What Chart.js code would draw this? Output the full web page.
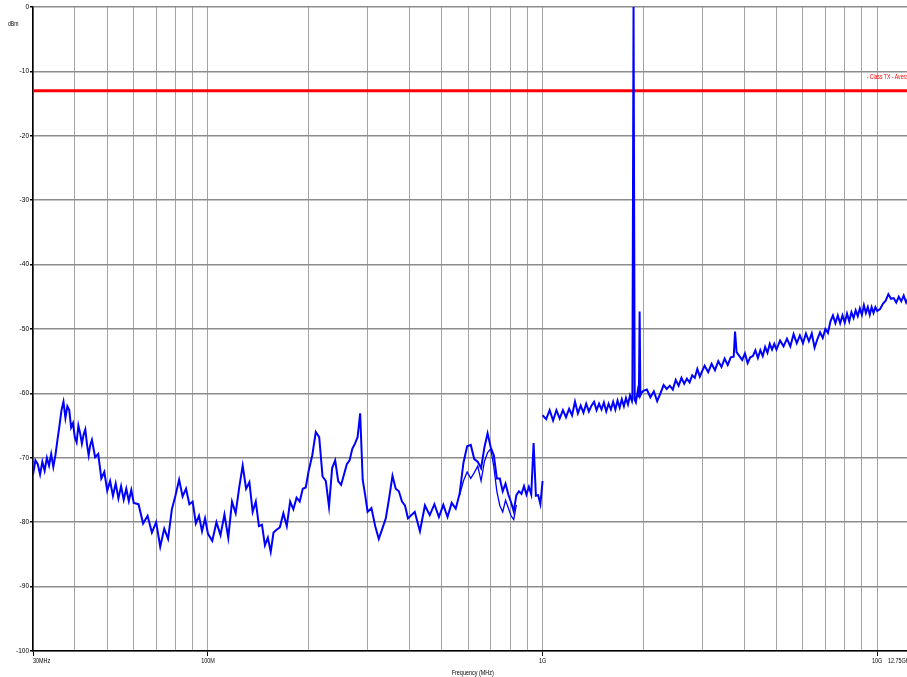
<!DOCTYPE html>
<html lang="en">
<head>
<meta charset="UTF-8">
<title>Conducted Spurious Emissions</title>
<script src="https://cdn.jsdelivr.net/npm/chart.js"></script>
<style>
    html, body { margin: 0; padding: 0; background: #fff; overflow: hidden; }
    /* the plot runs a little past the right edge of the window, like the original printout */
    #wrap { width: 907px; height: 677px; overflow: hidden; }
</style>
</head>
<body>
<div id="wrap"><canvas id="emiChart" width="960" height="677"></canvas></div>
<script>
// grid lines (MHz) and labelled ticks
const gridFreqs = [30, 40, 50, 60, 70, 80, 90, 100, 200, 300, 400, 500, 600, 700, 800, 900,
                   1000, 2000, 3000, 4000, 5000, 6000, 7000, 8000, 9000, 10000, 12750];
const xTickValues = [30, 100, 1000, 10000, 12750];
const xTickText = ['30MHz', '100M', '1G', '10G', '12.75GHz'];
const levelTicks = [0, -10, -20, -30, -40, -50, -60, -70, -80, -90, -100];
const limitLevel = -13;

// scan 30 MHz - 1 GHz (MHz / dBm)
const lowFreqs = [
    30, 30.5, 31, 31.5, 32, 32.5, 33, 33.5, 34, 34.5, 35, 35.5, 36, 36.5, 37, 37.5, 38, 38.5, 39, 39.5,
    40, 40.5, 41, 41.5, 42, 42.5, 43, 43.5, 44, 44.5, 45,
    46, 47, 48, 49, 50, 51, 52, 53, 54, 55, 56, 57, 58, 59, 60,
    62, 64, 66, 68, 70, 72, 74, 76, 78, 80, 82, 84, 86, 88, 90, 92, 94, 96, 98, 100,
    103, 106, 109, 112, 115, 118, 121, 124, 127, 130, 133, 136, 139, 142, 145, 148, 151, 154, 157, 160,
    164, 168, 172, 176, 180, 184, 188, 192, 196, 200,
    205, 210, 215, 220, 225, 230, 235, 240, 245, 250, 255, 260, 265, 270, 275, 280, 285, 290, 295, 300,
    308, 316, 324, 332, 340, 348, 356, 364, 372, 380, 388, 396, 400,
    415, 430, 445, 460, 475, 490, 505, 520, 535, 550, 565, 580, 595, 610, 625, 640, 655, 670, 685, 700,
    715, 730, 745, 760, 775, 790, 805, 820, 835, 850, 865, 880, 895, 910, 925, 940, 955, 970, 985, 1000
];
const lowLevels = [
    -72.6, -70.4, -71.0, -72.6, -70.6, -72.0, -70.0, -71.2, -69.4, -71.4, -69.6, -67.2, -65.0, -62.6, -61.3, -63.8, -62.0, -62.6, -65.3, -64.6,
    -66.8, -67.6, -65.0, -66.2, -67.8, -66.4, -65.6, -67.9, -69.6, -68.0, -67.2,
    -69.9, -69.4, -73.2, -72.2, -75.1, -73.6, -75.9, -74.0, -76.3, -74.4, -76.5, -74.8, -76.7, -75.0, -77.0,
    -77.2, -80.2, -79.0, -81.6, -80.0, -83.8, -81.0, -82.6, -78.0, -75.8, -73.4, -76.0, -74.8, -77.2, -76.8, -80.2, -79.0, -81.4, -79.4, -81.8,
    -82.9, -80.0, -82.0, -78.8, -82.4, -76.8, -78.6, -74.6, -71.2, -74.8, -73.8, -78.4, -76.8, -80.6, -80.4, -83.6, -82.4, -84.6, -81.6, -81.2,
    -80.8, -78.6, -80.6, -76.8, -78.0, -76.2, -76.8, -74.8, -74.6, -72.0,
    -69.6, -66.0, -66.8, -72.9, -73.6, -77.6, -71.6, -70.4, -73.6, -74.2, -72.6, -71.0, -70.4, -68.6, -67.8, -66.8, -63.1, -73.4, -75.8, -78.4,
    -77.8, -80.6, -82.6, -81.0, -79.4, -76.2, -72.8, -74.8, -75.2, -76.8, -77.4, -79.4, -79.2,
    -78.4, -81.4, -77.4, -78.9, -77.2, -79.2, -77.3, -79.2, -77.0, -77.9, -75.6, -70.8, -68.2, -68.0, -70.2, -70.6, -71.6, -68.4, -66.2, -68.4,
    -69.6, -73.2, -73.2, -75.2, -74.0, -75.7, -76.9, -78.3, -75.8, -75.2, -75.6, -74.4, -75.7, -74.5, -75.7, -67.7, -75.9, -75.8, -77.2, -73.6
];

// second detector trace, visible where it separates (560 - 840 MHz)
const avgFreqs = [565, 580, 595, 610, 625, 640, 655, 670, 685, 700, 715, 730, 745, 760, 775, 790, 805, 820, 835];
const avgLevels = [-75.8, -73.6, -72.2, -73.2, -72.3, -71.3, -73.6, -70.6, -69.2, -68.6, -71.4, -75.2, -77.4, -78.4, -76.6, -77.8, -79.0, -79.6, -77.3];

// scan 1 GHz - 12.75 GHz
const highFreqs = [
    1000, 1025, 1050, 1075, 1100, 1125, 1150, 1175, 1200, 1225, 1250, 1275, 1300, 1325, 1350, 1375, 1400, 1425,
    1450, 1475, 1500, 1525, 1550, 1575, 1600, 1625, 1650, 1675, 1700, 1725, 1750, 1775, 1800, 1825, 1850,
    1855, 1870, 1885, 1900, 1925, 1940, 1950, 1960, 1975, 2000,
    2050, 2100, 2150, 2200, 2250, 2300, 2350, 2400, 2450, 2500, 2550, 2600, 2650, 2700, 2750, 2800, 2850, 2900, 2950, 3000,
    3050, 3125, 3200, 3275, 3350, 3425, 3500, 3575, 3650, 3725, 3760, 3800,
    3875, 3950, 4025, 4100, 4175, 4250, 4325, 4400, 4475, 4550, 4625, 4700, 4775, 4850, 4925, 5000,
    5125, 5250, 5375, 5500, 5625, 5750, 5875, 6000, 6125, 6250, 6375, 6500, 6625, 6750, 6875, 7000,
    7125, 7250, 7375, 7500, 7625, 7750, 7875, 8000, 8125, 8250, 8375, 8500, 8625, 8750, 8875, 9000,
    9125, 9250, 9375, 9500, 9625, 9750, 9875, 10000,
    10200, 10400, 10600, 10800, 11000, 11200, 11400, 11600, 11800, 12000, 12200, 12400, 12600, 12750
];
const highLevels = [
    -63.4, -64.0, -62.6, -64.2, -62.6, -63.9, -62.6, -63.7, -62.4, -63.4, -61.3, -63.1, -61.9, -63.0, -61.6, -62.8, -61.9, -61.3,
    -62.6, -61.6, -62.5, -61.4, -62.8, -61.6, -62.5, -61.3, -62.5, -61.1, -62.2, -60.9, -62.0, -60.7, -61.7, -60.3, -61.2,
    -60.8, 0, -61.0, -61.4, -59.6, -60.6, -47.3, -60.3, -59.9, -59.6,
    -59.4, -60.6, -59.7, -61.2, -60.0, -58.7, -59.3, -58.8, -59.4, -57.9, -58.8, -57.6, -58.5, -57.7, -58.3, -57.2, -57.6, -56.2, -57.4, -56.5,
    -55.7, -56.7, -55.4, -56.4, -55.0, -55.9, -54.6, -55.6, -54.4, -54.3, -50.4, -53.6,
    -54.2, -54.8, -53.8, -55.3, -54.4, -54.2, -53.3, -54.5, -53.3, -54.2, -52.8, -53.7, -52.3, -53.2, -52.3, -53.2,
    -51.8, -52.7, -51.5, -52.7, -50.8, -52.2, -51.0, -52.2, -50.7, -51.9, -50.7, -52.9, -51.6, -50.5, -51.4, -50.0,
    -50.6, -48.8, -47.9, -49.1, -47.9, -49.1, -47.9, -49.0, -47.6, -48.8, -47.4, -48.3, -47.1, -48.0, -46.8, -47.8,
    -46.3, -47.5, -46.6, -47.8, -46.6, -47.5, -46.6, -47.2,
    -46.9, -46.1, -45.6, -44.6, -45.3, -45.2, -45.9, -45.0, -45.7, -44.8, -45.9, -45.1, -45.7, -45.3
];

const narrowFont = '"Liberation Sans Narrow", "Liberation Sans", Arial, sans-serif';

function toPoints(freqs, levels) {
    return freqs.map(function (f, i) { return { x: f, y: levels[i] }; });
}

// condensed text, the printout uses a narrow face
function narrowText(ctx, text, x, y, align, size) {
    var squeeze = 0.78;
    ctx.save();
    ctx.font = size + 'px ' + narrowFont;
    ctx.textAlign = align;
    ctx.textBaseline = 'middle';
    ctx.translate(x, y);
    ctx.scale(squeeze, 1);
    ctx.fillText(text, 0, 0);
    ctx.restore();
}

// x labels (first one left aligned, last one right aligned), axis title, unit and limit legend
const axisText = {
    id: 'axisText',
    afterDraw: function (chart) {
        var ctx = chart.ctx;
        var xs = chart.scales.x;
        var ys = chart.scales.y;
        var area = chart.chartArea;
        ctx.save();
        ctx.fillStyle = '#000';
        xTickValues.forEach(function (v, i) {
            var align = i === 0 ? 'left' : (i === xTickValues.length - 1 ? 'right' : 'center');
            narrowText(ctx, xTickText[i], xs.getPixelForValue(v), area.bottom + 10, align, 7);
        });
        narrowText(ctx, 'Frequency (MHz)', (area.left + area.right) / 2, area.bottom + 22, 'center', 7);
        narrowText(ctx, 'dBm', 8, 24, 'left', 6.5);
        ctx.fillStyle = '#ff0000';
        narrowText(ctx, '- Class TX - Average', xs.getPixelForValue(9300), ys.getPixelForValue(limitLevel) - 14, 'left', 6.5);
        ctx.restore();
    }
};

var traceStyle = { borderColor: '#0000ff', borderWidth: 2, pointRadius: 0, fill: false, tension: 0 };

new Chart(document.getElementById('emiChart'), {
    type: 'line',
    data: {
        datasets: [
            Object.assign({ label: '30M-1G', data: toPoints(lowFreqs, lowLevels) }, traceStyle),
            Object.assign({ label: '30M-1G avg', data: toPoints(avgFreqs, avgLevels) }, traceStyle, { borderWidth: 1.3 }),
            Object.assign({ label: '1G-12.75G', data: toPoints(highFreqs, highLevels) }, traceStyle),
            {
                label: 'Class TX - Average',
                data: [{ x: 30, y: limitLevel }, { x: 12750, y: limitLevel }],
                borderColor: '#ff0000',
                borderWidth: 3,
                pointRadius: 0
            }
        ]
    },
    options: {
        responsive: false,
        animation: false,
        layout: { padding: { top: 7, right: 47.5, left: 0, bottom: 0 } },
        plugins: {
            legend: { display: false },
            tooltip: { enabled: false }
        },
        scales: {
            x: {
                type: 'logarithmic',
                min: 30,
                max: 12750,
                afterFit: function (s) { s.height = 26; },
                afterBuildTicks: function (s) { s.ticks = gridFreqs.map(function (v) { return { value: v }; }); },
                ticks: { autoSkip: false, maxRotation: 0, callback: function () { return ''; } },
                grid: {
                    color: '#a4a4a4',
                    lineWidth: 1,
                    tickLength: 5,
                    tickColor: function (c) {
                        return c.tick && xTickValues.indexOf(c.tick.value) >= 0 ? '#000' : 'rgba(0,0,0,0)';
                    }
                },
                border: { color: '#000', width: 1.5 }
            },
            y: {
                min: -100,
                max: 0,
                afterFit: function (s) { s.width = 33; },
                afterBuildTicks: function (s) { s.ticks = levelTicks.map(function (v) { return { value: v }; }); },
                ticks: {
                    color: '#000',
                    padding: 1,
                    font: { size: 6.5, family: narrowFont },
                    callback: function (v) { return String(v); }
                },
                grid: { color: '#8c8c8c', lineWidth: 1.5, tickLength: 3, tickColor: '#000' },
                border: { color: '#000', width: 1.5 }
            }
        }
    },
    plugins: [axisText]
});
</script>
</body>
</html>
